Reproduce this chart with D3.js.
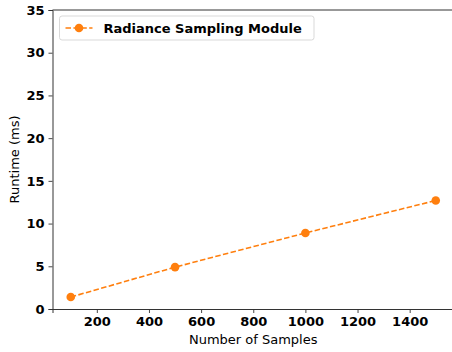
<!DOCTYPE html>
<html>
<head>
<meta charset="utf-8">
<script src="https://cdn.jsdelivr.net/npm/d3@7"></script>
<style>
  body { margin: 0; background: #fff; }
  svg { display: block; font-family: "DejaVu Sans", sans-serif; }
</style>
</head>
<body>
<div id="chart"></div>
<script>
  // data
  const samples = [100, 500, 1000, 1500];
  const runtimes = [1.4, 4.9, 8.9, 12.7];
  const xTicks = [200, 400, 600, 800, 1000, 1200, 1400];
  const yTicks = [0, 5, 10, 15, 20, 25, 30, 35];
  const seriesName = "Radiance Sampling Module";

  const W = 452, H = 352;
  const m = { left: 52.5, top: 10, right: -2, bottom: 43 };
  const color = "#ff7f0e";

  const svg = d3.select("#chart").append("svg")
    .attr("width", W).attr("height", H);

  const x = d3.scaleLinear().domain([30, 1570]).range([m.left, W - m.right]);
  const y = d3.scaleLinear().domain([0, 35]).range([H - m.bottom, m.top]);

  // axes
  const xAxis = svg.append("g")
    .attr("transform", `translate(0,${H - m.bottom})`)
    .call(d3.axisBottom(x).tickValues(xTicks).tickFormat(d3.format("d")).tickSize(4).tickPadding(4));
  const yAxis = svg.append("g")
    .attr("transform", `translate(${m.left},0)`)
    .call(d3.axisLeft(y).tickValues(yTicks).tickFormat(d3.format("d")).tickSize(4).tickPadding(4));

  [xAxis, yAxis].forEach(g => {
    g.selectAll("text")
      .attr("font-family", "DejaVu Sans, sans-serif")
      .attr("font-size", "13px")
      .attr("font-weight", "bold")
      .attr("fill", "#000");
    g.selectAll("line").attr("stroke", "#333").attr("stroke-width", 0.9);
    g.select(".domain").attr("stroke", "#333").attr("stroke-width", 1);
  });

  // top spine
  svg.append("line")
    .attr("x1", m.left).attr("x2", W - m.right)
    .attr("y1", m.top).attr("y2", m.top)
    .attr("stroke", "#333").attr("stroke-width", 1);

  // axis labels
  svg.append("text")
    .attr("x", (m.left + W - m.right) / 2).attr("y", H - 8)
    .attr("text-anchor", "middle")
    .attr("font-size", "13px")
    .text("Number of Samples");

  svg.append("text")
    .attr("transform", `translate(19,${(m.top + H - m.bottom) / 2}) rotate(-90)`)
    .attr("text-anchor", "middle")
    .attr("font-size", "13px")
    .text("Runtime (ms)");

  // series
  const pts = samples.map((s, i) => [s, runtimes[i]]);
  const line = d3.line().x(d => x(d[0])).y(d => y(d[1]));

  svg.append("path")
    .datum(pts)
    .attr("d", line)
    .attr("fill", "none")
    .attr("stroke", color)
    .attr("stroke-width", 1.6)
    .attr("stroke-dasharray", "5.5,2.4");

  svg.selectAll("circle.pt")
    .data(pts)
    .enter().append("circle")
    .attr("class", "pt")
    .attr("cx", d => x(d[0]))
    .attr("cy", d => y(d[1]))
    .attr("r", 4.3)
    .attr("fill", color);

  // legend
  const lg = svg.append("g").attr("transform", "translate(59.5,16)");
  lg.append("rect")
    .attr("width", 254.5).attr("height", 24)
    .attr("rx", 2.5)
    .attr("fill", "#fff")
    .attr("stroke", "#d9d9d9")
    .attr("stroke-width", 1);
  lg.append("line")
    .attr("x1", 6).attr("x2", 33)
    .attr("y1", 12).attr("y2", 12)
    .attr("stroke", color)
    .attr("stroke-width", 1.6)
    .attr("stroke-dasharray", "5.5,2.4");
  lg.append("circle")
    .attr("cx", 19.5).attr("cy", 12).attr("r", 4.3)
    .attr("fill", color);
  lg.append("text")
    .attr("x", 44).attr("y", 16.5)
    .attr("font-size", "13px")
    .attr("font-weight", "bold")
    .text(seriesName);
</script>
</body>
</html>
